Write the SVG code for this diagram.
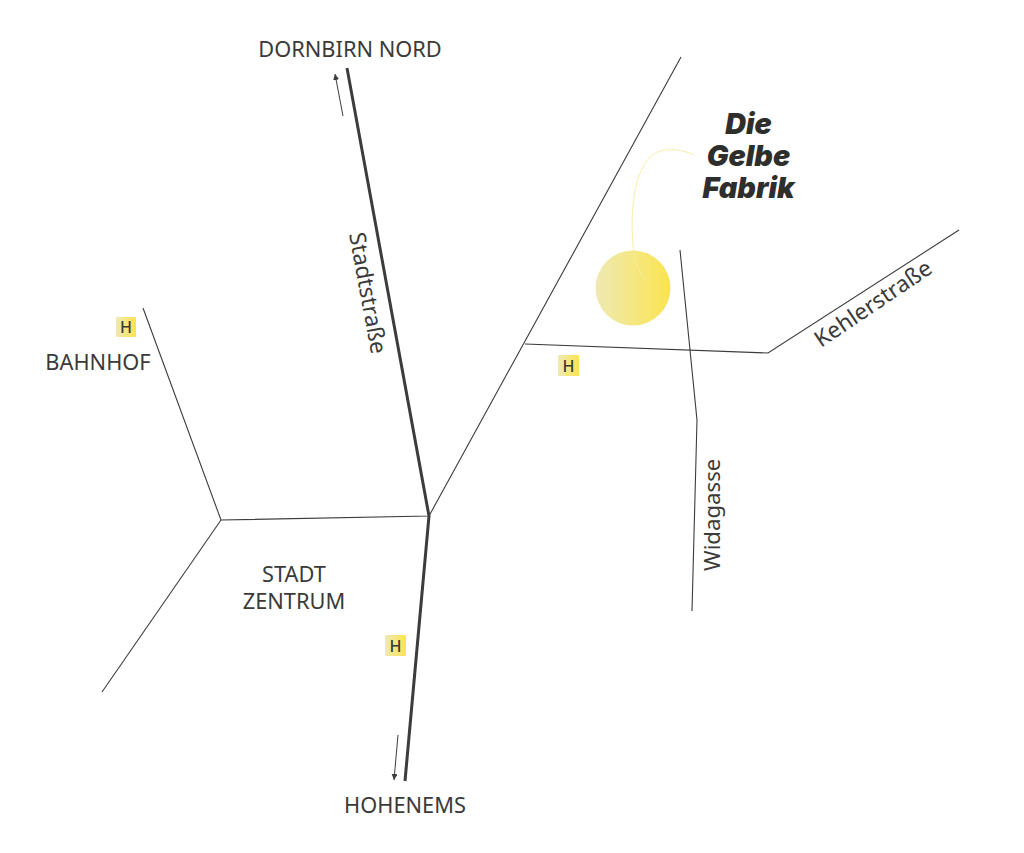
<svg xmlns="http://www.w3.org/2000/svg" width="1024" height="853" viewBox="0 0 1024 853">
<style>
text{font-family:"Noto Sans","Open Sans",sans-serif;fill:#3a3a39;font-size:21.800px}
.r{font-size:22.600px}
.w{font-size:22.200px}
.l{fill:none;stroke:#3c3c3b;stroke-width:1.100}
.m{fill:none;stroke:#3c3c3b;stroke-width:3}
.a{fill:none;stroke:#3c3c3b;stroke-width:1}
.c{fill:none;stroke:#f7eeaa;stroke-width:1}
.t{font-family:Inter,sans-serif;font-weight:900;font-style:italic;font-size:28.800px;fill:#2e2e2d}
.h{font-size:16px;font-weight:500}
</style>
<defs>
<linearGradient id="g"><stop offset="0" stop-color="#efe9b4"/><stop offset="1" stop-color="#fbe44f"/></linearGradient>
<marker id="ah" markerWidth="8" markerHeight="8" refX="6" refY="3" orient="auto" markerUnits="userSpaceOnUse"><path d="M0 0L6 3L0 6Z" fill="#3c3c3b"/></marker>
</defs>
<g id="connectors">
<path class="m" d="M347 68L429 516L405 781"/>
<path class="l" d="M143 308L221 520L429 516L681 57"/>
<path class="l" d="M102 692L221 520"/>
<path class="l" d="M525 344L768 353L959 230"/>
<path class="l" d="M680 250L697 420L692 611"/>
<path class="a" d="M343 116L335 74" marker-end="url(#ah)"/>
<path class="a" d="M398 735L394 780" marker-end="url(#ah)"/>
<path class="c" d="M695 155C680 149 662 146 650 157C631 176 630 226 634 252"/>
</g>
<g id="fabrik-marker"><circle cx="633" cy="288" r="37.500" fill="url(#g)"/></g>
<g id="fabrik-path-over"><path class="c" d="M634 252Q636 268 646 281" opacity=".6"/></g>
<g id="fabrik-title">
<text class="t" x="748.500" y="133.500" text-anchor="middle">Die</text>
<text class="t" x="748.500" y="165.500" text-anchor="middle">Gelbe</text>
<text class="t" x="748.500" y="197.500" text-anchor="middle">Fabrik</text>
</g>
<g id="dornbirn"><text x="350" y="57" text-anchor="middle">DORNBIRN NORD</text></g>
<g id="hohenems"><text x="405" y="813" text-anchor="middle">HOHENEMS</text></g>
<g id="bahnhof"><text x="98" y="370" text-anchor="middle">BAHNHOF</text></g>
<g id="zentrum"><text x="294" y="582" text-anchor="middle">STADT</text><text x="294" y="609" text-anchor="middle">ZENTRUM</text></g>
<g id="stadtstrasse"><text class="r" transform="translate(349 234) rotate(79.500)">Stadtstraße</text></g>
<g id="widagasse"><text class="w" transform="translate(720 571) rotate(-90)">Widagasse</text></g>
<g id="kehlerstrasse"><text class="r" transform="translate(821 348) rotate(-34)">Kehlerstraße</text></g>
<g id="h1"><rect x="116" y="317" width="20" height="20" rx="1" fill="url(#g)"/><text class="h" x="126" y="333" text-anchor="middle">H</text></g>
<g id="h2"><rect x="558" y="355" width="21" height="21" rx="1" fill="url(#g)"/><text class="h" x="568.500" y="371.500" text-anchor="middle">H</text></g>
<g id="h3"><rect x="385" y="635" width="21" height="21" rx="1" fill="url(#g)"/><text class="h" x="395.500" y="651.500" text-anchor="middle">H</text></g>
</svg>
